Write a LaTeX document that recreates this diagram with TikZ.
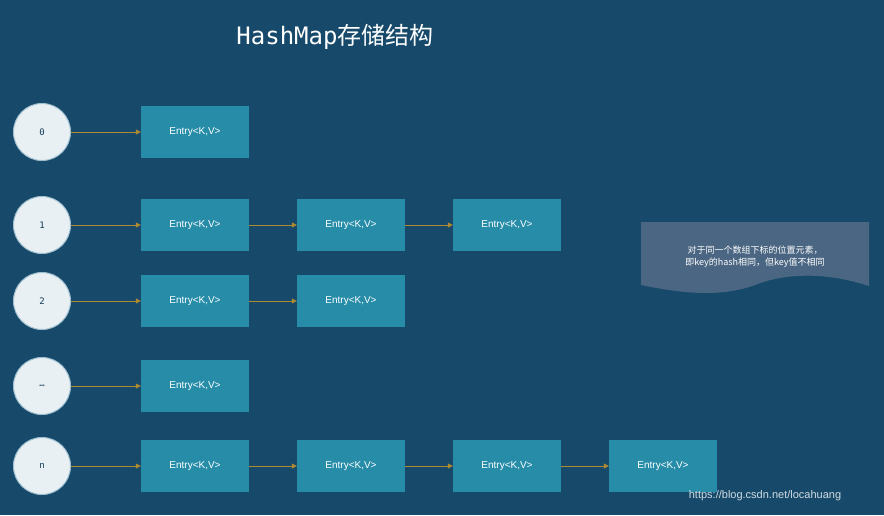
\documentclass[tikz,border=0pt]{standalone}
\usepackage{fontspec}
\setmainfont{Liberation Sans}
\newfontfamily\cjk{Noto Sans CJK SC}
\newfontfamily\mono{DejaVu Sans Mono}
\usetikzlibrary{arrows.meta}
\definecolor{bg}{HTML}{174A6A}
\definecolor{boxc}{HTML}{268CA8}
\definecolor{circc}{HTML}{E9F0F4}
\definecolor{circb}{HTML}{A0C0D0}
\definecolor{arr}{HTML}{B08A30}
\definecolor{callc}{HTML}{4A6682}
\begin{document}
\begin{tikzpicture}[x=1pt,y=-1pt,
  idx/.style={circle,fill=circc,draw=circb,line width=1pt,minimum size=57pt,inner sep=0pt,font=\mono\small,text=bg!80!black},
  ent/.style={rectangle,fill=boxc,minimum width=108pt,minimum height=52pt,inner sep=0pt,text=white,font=\fontsize{10}{12}\selectfont},
  con/.style={draw=arr,line width=0.8pt,-{Triangle[length=5pt,width=5pt]}}]
\fill[bg] (0,0) rectangle (884,515);
\useasboundingbox (0,0) rectangle (884,515);
\node (t) at (335,37) {\fontsize{24}{28}\selectfont\color{white}{\mono HashMap}{\cjk 存储结构}};
\foreach \r/\y/\l in {0/132/0,1/225/1,2/301/2,d/386/\dots,n/466/n}
  \node[idx] (c\r) at (42,\y) {\l};
\foreach \r/\y/\k in {0/132/1,1/225/3,2/301/2,d/386/1,n/466/4}{
  \foreach \i in {1,...,\k}
    \node[ent] (e\r\i) at ({195+156*(\i-1)},\y) {Entry<K,V>};
  \draw[con] (c\r) -- (e\r1);
}
\draw[con] (e11) -- (e12); \draw[con] (e12) -- (e13);
\draw[con] (e21) -- (e22);
\draw[con] (en1) -- (en2); \draw[con] (en2) -- (en3); \draw[con] (en3) -- (en4);
\fill[callc] (641,222) -- (869,222) -- (869,286) .. controls (820,270) and (780,275) .. (755,285) .. controls (720,298) and (680,293) .. (641,285) -- cycle;
\node[text=white,align=center,font=\cjk\fontsize{9}{12}\selectfont] (cl) at (755,257) {对于同一个数组下标的位置元素，\\即key的hash相同，但key值不相同};
\node[text=white!80!bg,font=\fontsize{11}{13}\selectfont] (wm) at (765,496) {https://blog.csdn.net/locahuang};
\end{tikzpicture}
\end{document}
